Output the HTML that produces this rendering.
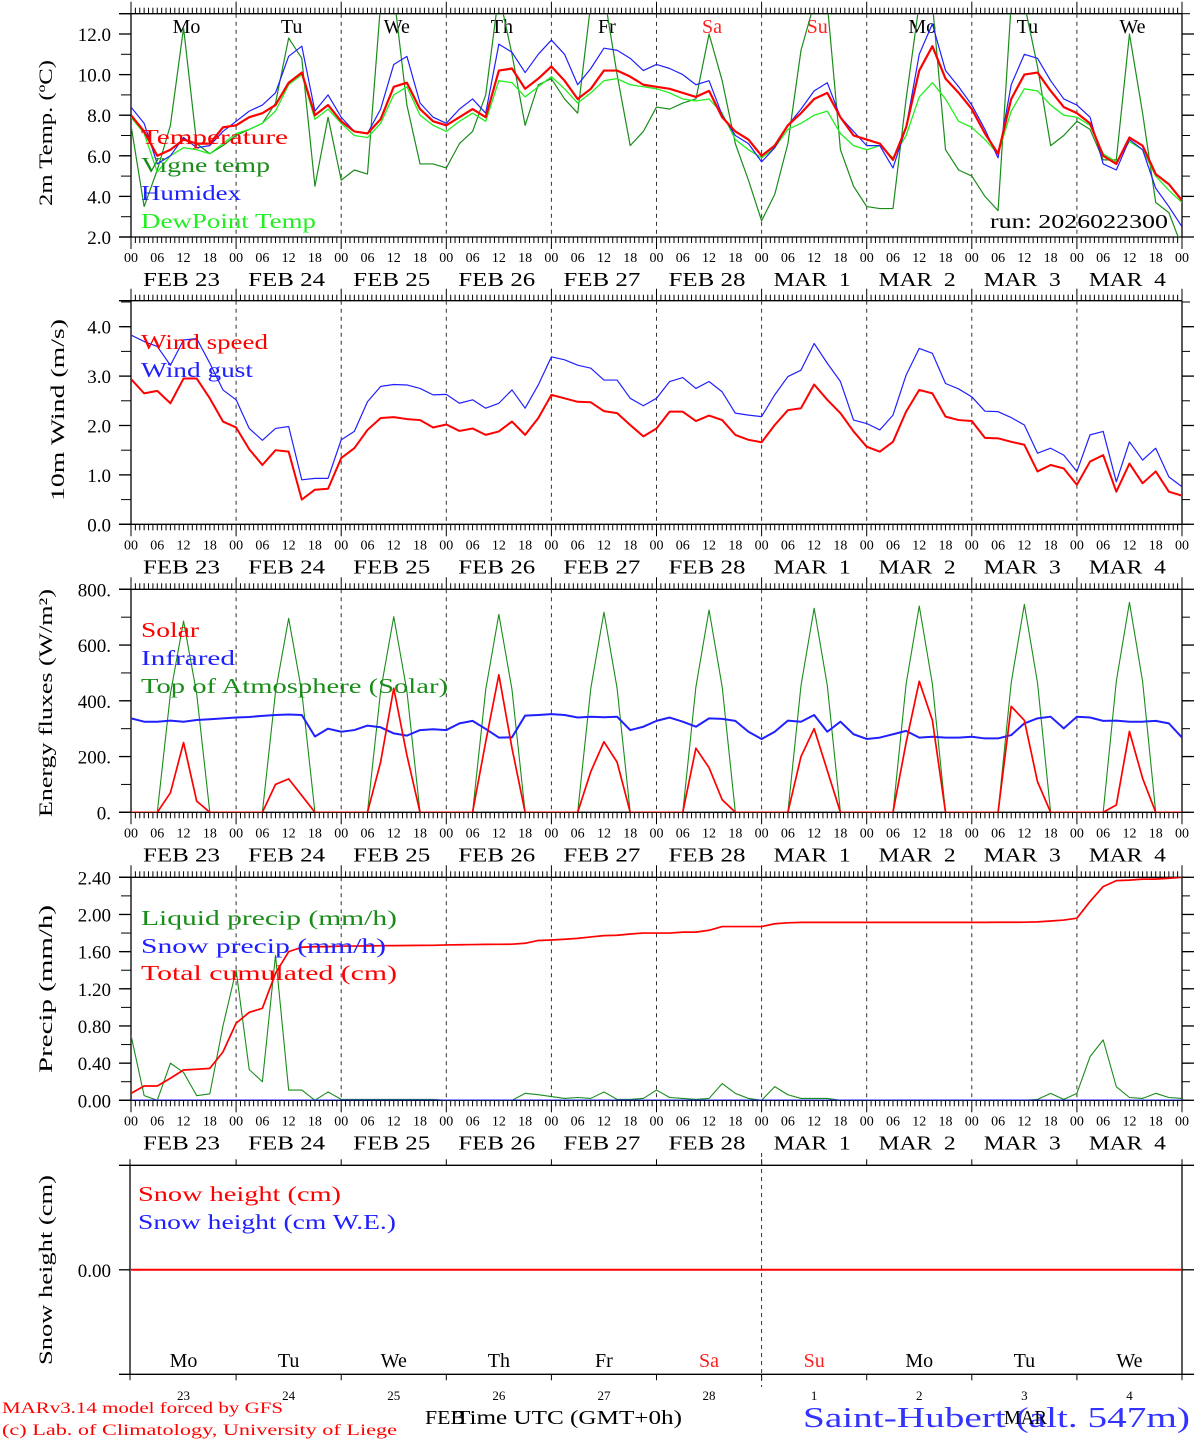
<!DOCTYPE html>
<html><head><meta charset="utf-8"><title>MAR forecast Saint-Hubert</title>
<style>
html,body{margin:0;padding:0;background:#fff;}
svg{display:block;font-family:"Liberation Serif","DejaVu Serif",serif;}
text{white-space:pre;}
</style></head>
<body>
<svg id="chart" xmlns="http://www.w3.org/2000/svg" width="1194" height="1440" viewBox="0 0 1194 1440" xml:space="preserve">
<rect x="0" y="0" width="1194" height="1440" fill="#fff"/>
<g id="layer"></g>
</svg>
<script>
// ---------- DATA (3-hourly, 23 Feb 00 UTC to 5 Mar 00 UTC) ----------
const dayLabels = ["FEB 23","FEB 24","FEB 25","FEB 26","FEB 27","FEB 28","MAR  1","MAR  2","MAR  3","MAR  4"];
const dayNames = ["Mo","Tu","We","Th","Fr","Sa","Su","Mo","Tu","We"];
const dayNums = ["23","24","25","26","27","28","1","2","3","4"];
const hourLabels = ["00","06","12","18"];
const tempTicks = [2,4,6,8,10,12];
const windTicks = [0,1,2,3,4];
const fluxTicks = [0,200,400,600,800];
const precipTicks = [0,0.4,0.8,1.2,1.6,2.0,2.4];

const temperature = [8.0,7.2,6.0,6.3,6.8,6.6,6.6,7.4, 7.5,7.9,8.1,8.5,9.6,10.1,8.0,8.5, 7.7,7.2,7.1,7.8,9.4,9.6,8.3,7.7, 7.5,7.9,8.3,7.9,10.2,10.3,9.3,9.8, 10.4,9.7,8.8,9.3,10.2,10.2,9.9,9.5, 9.4,9.3,9.1,8.9,9.2,7.9,7.2,6.8, 6.0,6.5,7.5,8.1,8.8,9.1,7.9,7.0, 6.8,6.6,5.8,7.4,10.2,11.4,9.8,9.1, 8.3,7.1,6.1,8.8,10.0,10.1,9.2,8.4, 8.1,7.6,6.0,5.6,6.9,6.5,5.1,4.6,3.8];
const vigneTemp = [7.5,3.5,5.3,7.5,12.3,6.6,6.1,6.5, 7.0,7.3,7.6,8.6,11.8,10.8,4.5,7.9, 4.8,5.3,5.1,13.5,14.0,8.5,5.6,5.6, 5.4,6.6,7.2,9.0,14.0,11.0,7.5,9.5, 9.8,8.8,8.1,13.5,14.0,10.0,6.5,7.2, 8.4,8.3,8.6,8.8,12.0,9.7,6.6,4.8, 2.8,4.1,6.6,11.2,13.5,13.5,6.3,4.5, 3.5,3.4,3.4,8.8,13.5,13.5,6.3,5.3, 5.0,4.0,3.3,13.5,13.5,10.4,6.5,7.0, 7.7,7.3,5.8,5.8,12.0,8.1,3.7,3.2,1.5];
const humidex = [8.4,7.6,5.6,6.0,6.9,6.4,6.5,7.2, 7.7,8.2,8.5,9.1,10.9,11.4,8.2,9.0, 7.9,7.2,7.1,8.3,10.5,10.9,8.6,7.9, 7.6,8.3,8.8,8.1,11.5,11.1,10.1,11.0, 11.7,11.0,9.5,10.3,11.3,11.2,10.8,10.2, 10.5,10.3,10.0,9.5,9.7,8.0,7.0,6.6, 5.7,6.4,7.5,8.3,9.2,9.6,7.9,7.2, 6.5,6.5,5.4,7.4,11.0,12.5,10.2,9.4, 8.5,7.3,5.9,9.5,11.0,10.8,9.7,8.8, 8.5,7.9,5.6,5.3,6.8,6.3,4.4,3.5,2.5];
const dewPoint = [7.9,7.1,5.2,6.0,6.4,6.3,6.1,6.6, 7.1,7.3,7.6,8.2,9.5,10.0,7.8,8.3, 7.6,7.0,6.9,7.6,9.0,9.4,8.0,7.5, 7.2,7.7,8.1,7.7,9.7,9.6,8.9,9.4, 9.9,9.3,8.6,9.1,9.7,9.8,9.5,9.4, 9.3,9.1,8.8,8.7,8.8,8.1,6.8,6.3, 5.9,6.4,7.3,7.6,8.0,8.2,7.1,6.5, 6.3,6.5,5.9,7.0,8.9,9.6,8.8,7.7, 7.4,6.8,6.1,8.2,9.3,9.2,8.5,8.0, 7.9,7.5,6.1,5.7,6.7,6.3,5.0,4.3,3.7];

const windSpeed = [2.94,2.65,2.70,2.45,2.95,2.95,2.55,2.08, 1.96,1.52,1.20,1.50,1.47,0.50,0.70,0.72, 1.34,1.54,1.91,2.15,2.17,2.13,2.11,1.96, 2.02,1.89,1.94,1.81,1.88,2.08,1.81,2.15, 2.62,2.55,2.48,2.47,2.29,2.25,2.01,1.78, 1.94,2.28,2.28,2.09,2.20,2.11,1.81,1.71, 1.66,2.01,2.31,2.35,2.83,2.52,2.25,1.88, 1.57,1.47,1.67,2.28,2.72,2.65,2.18,2.11, 2.09,1.75,1.74,1.67,1.61,1.07,1.20,1.13, 0.80,1.27,1.40,0.66,1.23,0.83,1.07,0.66,0.58];
const windGust = [3.83,3.70,3.60,3.22,3.73,3.76,3.26,2.72, 2.52,1.94,1.70,1.94,1.98,0.90,0.93,0.93, 1.71,1.88,2.48,2.79,2.83,2.82,2.75,2.62, 2.63,2.45,2.52,2.35,2.45,2.72,2.35,2.82, 3.39,3.33,3.22,3.16,2.92,2.92,2.55,2.40, 2.55,2.89,2.97,2.75,2.89,2.68,2.25,2.21, 2.18,2.62,2.99,3.12,3.66,3.26,2.89,2.11, 2.04,1.91,2.21,3.02,3.56,3.46,2.85,2.74, 2.58,2.29,2.28,2.16,2.01,1.44,1.54,1.40, 1.07,1.81,1.88,0.86,1.67,1.30,1.54,0.96,0.76];

const solar = [0,0,0,70,250,40,0,0, 0,0,0,100,120,60,0,0, 0,0,0,180,445,205,0,0, 0,0,0,253,493,230,0,0, 0,0,0,146,253,180,0,0, 0,0,0,230,160,45,0,0, 0,0,0,200,300,150,0,0, 0,0,0,250,470,330,0,0, 0,0,0,380,330,110,0,0, 0,0,0,26,290,122,0,0,0];
const infrared = [337,325,325,329,325,331,334,337, 340,342,346,349,351,349,272,300, 289,295,311,305,283,275,295,298, 295,319,328,299,268,269,347,349, 352,349,340,343,341,343,295,307, 328,340,325,307,337,335,328,289, 263,289,329,325,349,289,325,280, 263,268,280,292,268,271,268,268, 271,265,265,277,319,337,343,301, 343,340,328,329,325,325,328,319,268];
const toaSolar = [0,0,0,425,686,425,0,0, 0,0,0,432,696,432,0,0, 0,0,0,435,702,435,0,0, 0,0,0,440,710,440,0,0, 0,0,0,445,718,445,0,0, 0,0,0,450,726,450,0,0, 0,0,0,455,732,455,0,0, 0,0,0,460,740,460,0,0, 0,0,0,465,746,465,0,0, 0,0,0,470,753,470,0,0,0];

const liquidPrecip = [0.70,0.05,0.0,0.40,0.30,0.05,0.07,0.80, 1.40,0.33,0.20,1.56,0.11,0.11,0.0,0.09, 0.01,0.01,0.01,0.01,0.01,0.01,0.01,0.01, 0,0,0,0,0,0,0.075,0.06, 0.04,0.02,0.03,0.02,0.09,0.01,0.01,0.02, 0.11,0.03,0.02,0.01,0.02,0.18,0.075,0.02, 0,0.147,0.06,0.02,0.02,0.02,0,0, 0,0,0,0,0,0,0,0, 0,0,0,0,0,0.01,0.075,0.01, 0.075,0.47,0.65,0.147,0.03,0.02,0.075,0.03,0.02];
const snowPrecip = [0,0,0,0,0,0,0,0, 0,0,0,0,0,0,0,0, 0,0,0,0,0,0,0,0, 0,0,0,0,0,0,0,0, 0,0,0,0,0,0,0,0, 0,0,0,0,0,0,0,0, 0,0,0,0,0,0,0,0, 0,0,0,0,0,0,0,0, 0,0,0,0,0,0,0,0, 0,0,0,0,0,0,0,0,0];
const totalCumulated = [0.075,0.154,0.154,0.237,0.326,0.334,0.344,0.52, 0.829,0.947,0.99,1.367,1.60,1.647,1.654,1.654, 1.66,1.66,1.662,1.664,1.665,1.666,1.667,1.668, 1.672,1.674,1.676,1.678,1.679,1.68,1.69,1.72, 1.725,1.733,1.743,1.758,1.772,1.776,1.79,1.80, 1.80,1.80,1.81,1.81,1.83,1.87,1.87,1.87, 1.87,1.90,1.91,1.915,1.915,1.915,1.915,1.915, 1.915,1.915,1.915,1.915,1.915,1.915,1.915,1.915, 1.915,1.915,1.916,1.916,1.917,1.92,1.93,1.94, 1.96,2.14,2.30,2.364,2.37,2.38,2.38,2.39,2.40];
const snowHeight = [0,0,0,0,0,0,0,0, 0,0,0,0,0,0,0,0, 0,0,0,0,0,0,0,0, 0,0,0,0,0,0,0,0, 0,0,0,0,0,0,0,0, 0,0,0,0,0,0,0,0, 0,0,0,0,0,0,0,0, 0,0,0,0,0,0,0,0, 0,0,0,0,0,0,0,0, 0,0,0,0,0,0,0,0,0];

// ---------- LAYOUT ----------
const NS = "http://www.w3.org/2000/svg";
const layer = document.getElementById("layer");
const X0 = 131, X1 = 1182, HOURS = 240;
function xOfHour(h){ return X0 + h / HOURS * (X1 - X0); }
function xOfIndex(i){ return xOfHour(i * 3); }
function mk(tag, attrs, parent){
  const e = document.createElementNS(NS, tag);
  for (const k in attrs) e.setAttribute(k, attrs[k]);
  (parent || layer).appendChild(e);
  return e;
}
const panels = [
  {id:"temp", top:13.7, bot:237, min:2, max:13.0},
  {id:"wind", top:300.7, bot:524.3, min:0, max:4.526},
  {id:"flux", top:589.3, bot:812.3, min:0, max:800},
  {id:"precip", top:877.3, bot:1100.3, min:0, max:2.4},
  {id:"snow", top:1165.3, bot:1374.3, min:-1.0, max:1.0}
];
function yOf(p, v){ return p.bot - (v - p.min) / (p.max - p.min) * (p.bot - p.top); }

const defs = mk("defs", {});
panels.forEach(function(p){
  const cp = mk("clipPath", {id:"clip-" + p.id}, defs);
  mk("rect", {x:X0, y:p.top, width:X1 - X0, height:p.bot - p.top}, cp);
});

function text(str, x, y, opts){
  const t = mk("text", {x:x, y:y, "font-size":opts.size || 18, fill:opts.fill || "#000"});
  if (opts.anchor) t.setAttribute("text-anchor", opts.anchor);
  if (opts.len) { t.setAttribute("textLength", opts.len); t.setAttribute("lengthAdjust", "spacingAndGlyphs"); }
  if (opts.rotate) t.setAttribute("transform", "rotate(-90 " + x + " " + y + ")");
  t.textContent = str;
  return t;
}

function line(x1, y1, x2, y2, stroke, w, dash){
  const l = mk("line", {x1:x1, y1:y1, x2:x2, y2:y2, stroke:stroke, "stroke-width":w});
  if (dash) l.setAttribute("stroke-dasharray", dash);
  return l;
}

function series(p, data, color, width){
  let pts = [];
  for (let i = 0; i < data.length; i++) pts.push(xOfIndex(i).toFixed(2) + "," + yOf(p, data[i]).toFixed(2));
  const pl = mk("polyline", {points:pts.join(" "), fill:"none", stroke:color, "stroke-width":width, "stroke-linejoin":"round", "clip-path":"url(#clip-" + p.id + ")"});
  return pl;
}

// ---------- AXES FOR PANELS 1-4 ----------
function timeAxes(p, ticks, minorStep, fmt){
  const frameG = mk("g", {});
  
  
  line(119, p.top, X1, p.top, "#000", 1.3);
  line(119, p.bot, X1, p.bot, "#000", 1.3);
  line(X0, p.top, X0, p.bot, "#000", 1.3);
  line(X1, p.top, X1, p.bot, "#000", 1.3);
  for (let h = 0; h <= HOURS; h++){
    const x = xOfHour(h);
    const len = (h % 24 === 0) ? 12 : 6;
    line(x, p.top - len, x, p.top, "#000", 1);
    line(x, p.bot, x, p.bot + len, "#000", 1);
  }
  for (let d = 1; d < 10; d++){
    const sep = line(xOfHour(d * 24), p.top, xOfHour(d * 24), p.bot, "#333", 1, "4,4");
    
    
  }
  for (let v = p.min; v <= p.max + 1e-9; v += minorStep){
    const y = yOf(p, v);
    line(121, y, X0, y, "#000", 1);
    line(X1, y, X1 + 8, y, "#000", 1);
  }
  ticks.forEach(function(v){
    const y = yOf(p, v);
    line(119, y, X0, y, "#000", 1.3);
    line(X1, y, 1194, y, "#000", 1.3);
    const t = text(fmt(v), 111, y + 7, {size:19, anchor:"end"});
    
    
  });
  for (let d = 0; d < 10; d++){
    for (let k = 0; k < 4; k++){
      const t = text(hourLabels[k], xOfHour(d * 24 + k * 6), p.bot + 25, {size:14, anchor:"middle"});
      
      
    }
    const dl = text(dayLabels[d], xOfHour(d * 24) + 12, p.bot + 49, {size:20, len:77});
    
    
  }
  const last = text("00", X1, p.bot + 25, {size:14, anchor:"middle"});
  
  
}

function legend(str, x, y, color, len, size){
  const t = text(str, x, y, {size:size || 21, fill:color, len:len});
  
  
  return t;
}
function ytitle(str, x, yc, len){
  const t = text(str, x, yc, {size:19, anchor:"middle", len:len, rotate:true});
  
  
}

// Panel 1: temperature
const P1 = panels[0];
timeAxes(P1, tempTicks, 1, function(v){ return v.toFixed(1); });
ytitle("2m Temp. (\u00BAC)", 52, 133, 146);
for (let d = 0; d < 10; d++){
  const col = (d === 5 || d === 6) ? "#ff2020" : "#000";
  const dn = text(dayNames[d], xOfHour(d * 24 + 12) + 3, 33, {size:20, anchor:"middle", fill:col});
  
  
}
const sV = series(P1, vigneTemp, "#1a8c1a", 1.2);


const sD = series(P1, dewPoint, "#22ee22", 1.3);


const sH = series(P1, humidex, "#2020ff", 1.2);


const sT = series(P1, temperature, "#ff0000", 2.2);


legend("Temperature", 141, 144, "#ff0000", 147);
legend("Vigne temp", 141, 172, "#1a8c1a", 129);
legend("Humidex", 141, 200, "#2020ff", 100);
legend("DewPoint Temp", 141, 228, "#22ee22", 175);
const run = text("run: 2026022300", 1168, 228, {size:20, anchor:"end", len:178});



// Panel 2: wind
const P2 = panels[1];
timeAxes(P2, windTicks, 0.5, function(v){ return v.toFixed(1); });
ytitle("10m Wind (m/s)", 64, 410, 182);
const sG = series(P2, windGust, "#2020ff", 1.2);


const sW = series(P2, windSpeed, "#ff0000", 2);


legend("Wind speed", 141, 349, "#ff0000", 127);
legend("Wind gust", 141, 377, "#2020ff", 112);

// Panel 3: energy fluxes
const P3 = panels[2];
timeAxes(P3, fluxTicks, 100, function(v){ return v.toFixed(0) + "."; });
ytitle("Energy fluxes (W/m\u00B2)", 52, 703, 228);
const sTOA = series(P3, toaSolar, "#1a8c1a", 1.1);


const sIR = series(P3, infrared, "#2020ff", 2);


const sS = series(P3, solar, "#ff0000", 1.7);


legend("Solar", 141, 637, "#ff0000", 58);
legend("Infrared", 141, 665, "#2020ff", 94);
legend("Top of Atmosphere (Solar)", 141, 693, "#1a8c1a", 307);

// Panel 4: precipitation
const P4 = panels[3];
timeAxes(P4, precipTicks, 0.2, function(v){ return v.toFixed(2); });
ytitle("Precip (mm/h)", 52, 989, 168);
const sL = series(P4, liquidPrecip, "#1a8c1a", 1.1);


const sSn = series(P4, snowPrecip, "#2020ff", 1.6);


const sC = series(P4, totalCumulated, "#ff0000", 1.7);


legend("Liquid precip (mm/h)", 141, 925, "#1a8c1a", 256);
legend("Snow precip (mm/h)", 141, 953, "#2020ff", 245);
legend("Total cumulated (cm)", 141, 980, "#ff0000", 256);

// Panel 5: snow height
const P5 = panels[4];
(function(){
  const g = mk("g", {});
  
  
  const XL = 130;
  line(119, P5.top, 1194, P5.top, "#000", 1.3);
  line(119, P5.bot, 1194, P5.bot, "#000", 1.3);
  line(XL, P5.top, XL, P5.bot, "#000", 1.3);
  line(X1, P5.top, X1, P5.bot, "#000", 1.3);
  for (let d = 0; d <= 10; d++){
    const x = d === 0 ? XL : xOfHour(d * 24);
    line(x, P5.top - 6, x, P5.top, "#000", 1);
    line(x, P5.bot, x, P5.bot + 6, "#000", 1);
  }
  const sep = line(xOfHour(144), 1153, xOfHour(144), 1387, "#333", 1, "4,4");
  
  
  const y0 = yOf(P5, 0);
  line(119, y0, XL, y0, "#000", 1.3);
  line(X1, y0, 1194, y0, "#000", 1.3);
  const yl = text("0.00", 111, y0 + 7, {size:19, anchor:"end"});
  
  
  for (let d = 0; d < 10; d++){
    const col = (d === 5 || d === 6) ? "#ff2020" : "#000";
    const xc = xOfHour(d * 24 + 12);
    const dn = text(dayNames[d], xc, 1367, {size:20, anchor:"middle", fill:col});
    
    
    const nn = text(dayNums[d], xc, 1400, {size:13, anchor:"middle"});
    
    
  }
})();
ytitle("Snow height (cm)", 52, 1270, 190);
const sSH = series(P5, snowHeight, "#ff0000", 2);


legend("Snow height (cm)", 138, 1201, "#ff0000", 203);
legend("Snow height (cm W.E.)", 138, 1229, "#2020ff", 258);

// Footer
const f1 = text("MARv3.14 model forced by GFS", 2, 1413, {size:16, fill:"#ff0000", len:281});


const f2 = text("(c) Lab. of Climatology, University of Liege", 2, 1435, {size:16, fill:"#ff0000", len:395});


const f3 = text("FEB", 425, 1424, {size:20, len:40});


const f4 = text("Time UTC (GMT+0h)", 455, 1424, {size:20, len:227});


const f5 = text("Saint-Hubert (alt. 547m)", 803, 1427, {size:28, fill:"#3333ff", len:387});


const f6 = text("MAR", 1004, 1424, {size:20, len:43});


</script>
</body></html>
